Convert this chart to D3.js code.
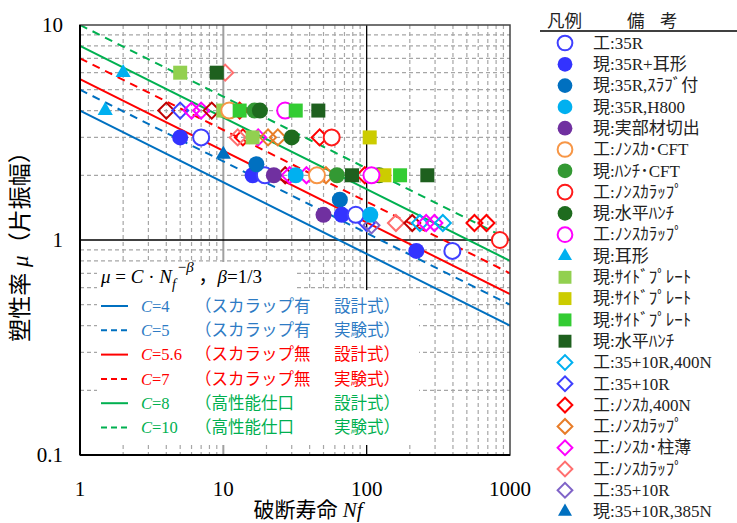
<!DOCTYPE html>
<html>
<head>
<meta charset="utf-8">
<script src="https://cdn.jsdelivr.net/npm/d3@7"></script>
<style>body{margin:0;background:#fff}</style>
</head>
<body>
<svg id="chart" width="737" height="523"></svg>
<script>
// axis ticks
const xTicks = [1, 10, 100, 1000];
const xTickLabels = ["1", "10", "100", "1000"];
const yTicks = [0.1, 1, 10];
const yTickLabels = ["0.1", "1", "10"];

// design / experiment curves  mu = C * Nf^(-1/3)
const curveC = [4, 5, 5.6, 7, 8, 10];
const curveCText = ["4", "5", "5.6", "7", "8", "10"];
const curveDashed = [false, true, false, true, false, true];
const curveColor = ["#0070c0", "#0070c0", "#ff0000", "#ff0000", "#00b050", "#00b050"];
const curveTextColor = ["#2e7bc4", "#2e7bc4", "#ff0000", "#ff0000", "#00b050", "#00b050"];
const curveGroup = ["（スカラップ有", "（スカラップ有", "（スカラップ無", "（スカラップ無", "（高性能仕口", "（高性能仕口"];
const curveKind = ["設計式）", "実験式）", "設計式）", "実験式）", "設計式）", "実験式）"];
const beta = 1 / 3;

// test series (legend order); the last one has no legend entry
const seriesNames = ["工:35R", "現:35R+耳形", "現:35R,ｽﾗﾌﾞ付", "現:35R,H800", "現:実部材切出",
  "工:ﾉﾝｽｶ･CFT", "現:ﾊﾝﾁ･CFT", "工:ﾉﾝｽｶﾗｯﾌﾟ", "現:水平ﾊﾝﾁ", "工:ﾉﾝｽｶﾗｯﾌﾟ",
  "現:耳形", "現:ｻｲﾄﾞﾌﾟﾚｰﾄ", "現:ｻｲﾄﾞﾌﾟﾚｰﾄ", "現:ｻｲﾄﾞﾌﾟﾚｰﾄ", "現:水平ﾊﾝﾁ",
  "工:35+10R,400N", "工:35+10R", "工:ﾉﾝｽｶ,400N", "工:ﾉﾝｽｶﾗｯﾌﾟ", "工:ﾉﾝｽｶ･柱薄",
  "工:ﾉﾝｽｶﾗｯﾌﾟ", "工:35+10R", "現:35+10R,385N", null];
const seriesShape = ["circle", "circle", "circle", "circle", "circle",
  "circle", "circle", "circle", "circle", "circle",
  "triangle", "square", "square", "square", "square",
  "diamond", "diamond", "diamond", "diamond", "diamond",
  "diamond", "diamond", "triangle", "diamond"];
const seriesFilled = [false, true, true, true, true,
  false, true, false, true, false,
  true, true, true, true, true,
  false, false, false, false, false,
  false, false, true, false];
const seriesColor = ["#4040ff", "#3333ff", "#0070c0", "#00b0f0", "#7030a0",
  "#f79646", "#339933", "#ff1a1a", "#1e6b1e", "#ff00ff",
  "#00b0f0", "#92d050", "#cccc00", "#33cc33", "#1e601e",
  "#00b0f0", "#4040ff", "#ff0000", "#e87d28", "#ff00ff",
  "#ff6f6f", "#8064c8", "#0070c0", "#c00000"];

// points [series, Nf, mu] in drawing order
const points = [
  [20, 10.3, 6],
  [23, 4, 4], [16, 5, 4], [19, 6, 4], [19, 7, 4], [23, 8.3, 4], [17, 13, 4],
  [17, 13.7, 3], [20, 12.6, 3], [19, 17.5, 3], [18, 20.5, 3], [18, 24, 3], [17, 47, 3],
  [23, 27, 2], [19, 29, 2], [19, 38, 2], [18, 52, 2], [17, 97, 2],
  [16, 100, 1.2], [21, 108, 1.17], [20, 160, 1.2], [23, 208, 1.2],
  [15, 235, 1.2], [19, 260, 1.2], [19, 297, 1.2], [15, 340, 1.2],
  [17, 565, 1.2], [17, 685, 1.2],
  [10, 2, 6], [11, 5, 6], [14, 9, 6],
  [10, 1.5, 4], [22, 10, 2.5],
  [11, 10, 4], [5, 11, 4], [13, 13, 4], [6, 16.5, 4], [8, 18, 4], [9, 27, 4], [13, 32, 4], [14, 46, 4],
  [1, 5, 3], [0, 7, 3], [11, 16, 3], [8, 30, 3], [7, 57, 3], [12, 105, 3],
  [1, 16, 2], [0, 19.5, 2], [4, 22.5, 2], [2, 17, 2.25], [3, 32, 2], [5, 45, 2], [6, 62, 2],
  [14, 79, 2], [8, 122, 2], [12, 133, 2], [9, 108, 2], [13, 171, 2], [14, 265, 2],
  [4, 50, 1.31], [2, 65, 1.54], [1, 67, 1.31], [0, 84, 1.31], [3, 106, 1.31],
  [7, 850, 1.0], [1, 222, 0.89], [0, 396, 0.89]
];

const serif = "'Liberation Serif','Times New Roman','Noto Sans CJK JP',serif";

const svg = d3.select("#chart");
const plot = {left: 80, right: 510, top: 25, bottom: 455};

const x = d3.scaleLog().domain([1, 1000]).range([plot.left, plot.right]);
const y = d3.scaleLog().domain([0.1, 10]).range([plot.bottom, plot.top]);

svg.append("defs").append("clipPath").attr("id", "clip")
  .append("rect").attr("x", plot.left).attr("y", plot.top)
  .attr("width", plot.right - plot.left).attr("height", plot.bottom - plot.top);

// minor grid
const grid = svg.append("g");
const minorX = [], minorY = [];
[1, 10, 100].forEach(d => { for (let k = 2; k <= 9; k++) minorX.push(k * d); });
[0.1, 1].forEach(d => { for (let k = 2; k <= 9; k++) minorY.push(k * d); });
grid.selectAll("line.gx").data(minorX).enter().append("line")
  .attr("x1", d => x(d)).attr("x2", d => x(d)).attr("y1", plot.top).attr("y2", plot.bottom)
  .attr("stroke", "#a6a6a6").attr("stroke-width", 1.2).attr("stroke-dasharray", "4,3");
grid.selectAll("line.gy").data(minorY).enter().append("line")
  .attr("y1", d => y(d)).attr("y2", d => y(d)).attr("x1", plot.left).attr("x2", plot.right)
  .attr("stroke", "#a6a6a6").attr("stroke-width", 1.2).attr("stroke-dasharray", "4,3");
// major grid
grid.append("line").attr("x1", x(10)).attr("x2", x(10)).attr("y1", plot.top).attr("y2", plot.bottom)
  .attr("stroke", "#a0a0a0").attr("stroke-width", 2);
grid.append("line").attr("x1", x(100)).attr("x2", x(100)).attr("y1", plot.top).attr("y2", plot.bottom)
  .attr("stroke", "#000").attr("stroke-width", 1.3);
grid.append("line").attr("x1", plot.left).attr("x2", plot.right).attr("y1", y(1)).attr("y2", y(1))
  .attr("stroke", "#000").attr("stroke-width", 1.6);

// curves
const line = d3.line().x(d => x(d[0])).y(d => y(d[1]));
svg.append("g").attr("clip-path", "url(#clip)")
  .selectAll("path").data(curveC).enter().append("path")
  .attr("d", c => line([[1, c], [1000, c * Math.pow(1000, -beta)]]))
  .attr("fill", "none")
  .attr("stroke", (c, i) => curveColor[i])
  .attr("stroke-width", 2)
  .attr("stroke-dasharray", (c, i) => curveDashed[i] ? "8,6" : null);

// legend inside plot
const box = svg.append("g");
box.append("rect").attr("x", 97).attr("y", 262).attr("width", 200).attr("height", 32).attr("fill", "#fff");
box.append("rect").attr("x", 97).attr("y", 290).attr("width", 322).attr("height", 155).attr("fill", "#fff");

const f = box.append("text").attr("x", 101).attr("y", 283)
  .attr("font-family", serif).attr("font-size", 19).attr("fill", "#000");
f.append("tspan").attr("font-style", "italic").text("μ");
f.append("tspan").text(" = ");
f.append("tspan").attr("font-style", "italic").text("C");
f.append("tspan").text(" · ");
f.append("tspan").attr("font-style", "italic").text("N");
f.append("tspan").attr("font-style", "italic").attr("font-size", 14).attr("dy", 6).text("f");
f.append("tspan").attr("font-size", 15).attr("dy", -17).attr("dx", 2).text("−");
f.append("tspan").attr("font-style", "italic").attr("font-size", 15).text("β");
f.append("tspan").attr("dy", 11).text(" ，");
f.append("tspan").attr("font-style", "italic").text("β");
f.append("tspan").text("=1/3");

curveC.forEach((c, i) => {
  const ly = 306 + i * 24.3;
  box.append("line").attr("x1", 101).attr("x2", 128).attr("y1", ly).attr("y2", ly)
    .attr("stroke", curveColor[i]).attr("stroke-width", 2)
    .attr("stroke-dasharray", curveDashed[i] ? "6,4" : null);
  const t = box.append("text").attr("x", 141).attr("y", ly).attr("dy", "0.35em")
    .attr("font-family", serif).attr("font-size", 16.5).attr("fill", curveTextColor[i]);
  t.append("tspan").attr("font-style", "italic").text("C");
  t.append("tspan").text("=" + curveCText[i]);
  box.append("text").attr("x", 195).attr("y", ly).attr("dy", "0.35em")
    .attr("font-family", serif).attr("font-size", 16.5).attr("fill", curveTextColor[i])
    .text(curveGroup[i]);
  box.append("text").attr("x", 334).attr("y", ly).attr("dy", "0.35em")
    .attr("font-family", serif).attr("font-size", 16.5).attr("fill", curveTextColor[i])
    .text(curveKind[i]);
});

// markers
function symbolPath(shape, scale) {
  if (shape === "circle") return d3.symbol().type(d3.symbolCircle).size(201 * scale)();
  if (shape === "square") return d3.symbol().type(d3.symbolSquare).size(196 * scale)();
  if (shape === "triangle") return d3.symbol().type(d3.symbolTriangle).size(100 * scale)();
  return d3.symbol().type(d3.symbolSquare).size(128 * scale)();
}
function drawMarker(g, s, scale) {
  const filled = seriesFilled[s];
  const fillOpen = seriesShape[s] === "diamond" ? "none" : "#fff";
  g.append("path")
    .attr("d", symbolPath(seriesShape[s], scale))
    .attr("transform", seriesShape[s] === "diamond" ? "rotate(45)" : null)
    .attr("fill", filled ? seriesColor[s] : fillOpen)
    .attr("stroke", filled ? "none" : seriesColor[s])
    .attr("stroke-width", 2);
}

const pts = svg.append("g");
pts.selectAll("g").data(points).enter().append("g")
  .attr("transform", d => "translate(" + x(d[1]) + "," + y(d[2]) + ")")
  .each(function (d) { drawMarker(d3.select(this), d[0], 1); });

// frame
svg.append("rect").attr("x", plot.left).attr("y", plot.top)
  .attr("width", plot.right - plot.left).attr("height", plot.bottom - plot.top)
  .attr("fill", "none").attr("stroke", "#444").attr("stroke-width", 1.5);
svg.append("line").attr("x1", plot.left).attr("x2", plot.left).attr("y1", plot.top).attr("y2", plot.bottom)
  .attr("stroke", "#000").attr("stroke-width", 2);
svg.append("line").attr("x1", plot.left).attr("x2", plot.right).attr("y1", plot.bottom).attr("y2", plot.bottom)
  .attr("stroke", "#000").attr("stroke-width", 2);

// tick labels
svg.selectAll("text.xt").data(xTicks).enter().append("text")
  .attr("x", d => x(d)).attr("y", 496).attr("text-anchor", "middle")
  .attr("font-family", serif).attr("font-size", 21).attr("fill", "#000")
  .text((d, i) => xTickLabels[i]);
svg.selectAll("text.yt").data(yTicks).enter().append("text")
  .attr("x", 63).attr("y", d => y(d)).attr("dy", "0.35em").attr("text-anchor", "end")
  .attr("font-family", serif).attr("font-size", 21).attr("fill", "#000")
  .text((d, i) => yTickLabels[i]);

// axis titles
const xt = svg.append("text").attr("x", 308).attr("y", 517).attr("text-anchor", "middle")
  .attr("font-family", serif).attr("font-size", 21).attr("fill", "#000");
xt.append("tspan").text("破断寿命 ");
xt.append("tspan").attr("font-style", "italic").text("Nf");

const yt = svg.append("text").attr("transform", "translate(20,241) rotate(-90)")
  .attr("dy", "0.35em").attr("text-anchor", "middle").attr("font-family", serif)
  .attr("font-size", 23).attr("fill", "#000");
yt.append("tspan").text("塑性率 ");
yt.append("tspan").attr("font-style", "italic").text("μ");
yt.append("tspan").text("（片振幅）");

// right legend
const leg = svg.append("g");
leg.append("text").attr("x", 547).attr("y", 27).attr("font-family", serif).attr("font-size", 17.5)
  .attr("fill", "#222").text("凡例");
leg.append("text").attr("x", 627).attr("y", 27).attr("font-family", serif).attr("font-size", 17.5)
  .attr("fill", "#222").text("備");
leg.append("text").attr("x", 660).attr("y", 27).attr("font-family", serif).attr("font-size", 17.5)
  .attr("fill", "#222").text("考");
leg.append("line").attr("x1", 540).attr("x2", 737).attr("y1", 31).attr("y2", 31)
  .attr("stroke", "#000").attr("stroke-width", 1.5);

seriesNames.forEach((name, i) => {
  if (name === null) return;
  const ly = 43 + i * 21.3;
  const g = leg.append("g").attr("transform", "translate(565," + ly + ")");
  drawMarker(g, i, 0.85);
  leg.append("text").attr("x", 593).attr("y", ly).attr("dy", "0.34em")
    .attr("font-family", serif).attr("font-size", 17).attr("fill", "#222").text(name);
});
</script>
</body>
</html>
